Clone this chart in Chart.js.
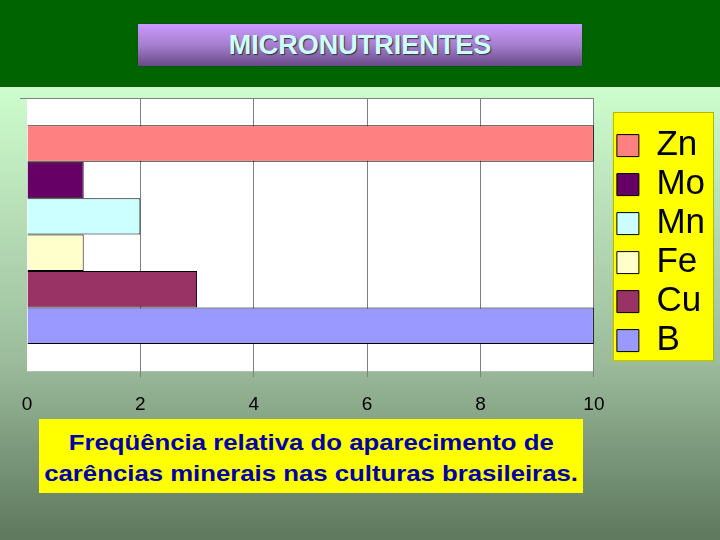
<!DOCTYPE html>
<html>
<head>
<meta charset="utf-8">
<script src="https://cdn.jsdelivr.net/npm/chart.js@4"></script>
<style>
html,body{margin:0;padding:0;}
body{width:720px;height:540px;position:relative;overflow:hidden;
  background:linear-gradient(to bottom,#006400 0px,#006400 87px,#cdfdcd 87px,#bae2ba 200px,#9cbc9c 360px,#7c987c 450px,#5d785d 540px);
  font-family:"Liberation Sans",Arial,sans-serif;}
#title{position:absolute;left:138px;top:24px;width:444px;height:42px;
  background:linear-gradient(#cc99ff 0%,#a57fce 50%,#684a88 100%);
  box-shadow:0 0 1px #222;color:#ccffff;font-weight:bold;font-size:27px;line-height:42px;
  text-align:center;text-shadow:1px 1px 1px #333;}
#wrap{position:absolute;left:0;top:87px;width:720px;height:353px;}
#caption{position:absolute;left:39px;top:419px;width:544px;height:74px;background:#ffff00;
  text-align:center;color:#0000aa;font-weight:bold;font-size:22px;line-height:31px;box-sizing:border-box;padding-top:8px;}
#caption span{display:inline-block;transform:scaleX(1.17);transform-origin:center;white-space:nowrap;}
</style>
</head>
<body>
<div id="title">MICRONUTRIENTES</div>
<div id="wrap"><canvas id="c"></canvas></div>
<div id="caption"><span>Freqüência relativa do aparecimento de</span><br><span>carências minerais nas culturas brasileiras.</span></div>
<script>
// Data
const categories = [''];
const elements = ['Zn', 'Mo', 'Mn', 'Fe', 'Cu', 'B'];
const values = [10, 1, 2, 1, 3, 10];
const colors = ['#ff8080', '#660066', '#ccffff', '#ffffcc', '#993366', '#9999ff'];
const xTicks = [0, 2, 4, 6, 8, 10];

const FONT = '"Liberation Sans", Arial, sans-serif';

const datasets = elements.map((name, i) => ({
  label: name,
  data: [values[i]],
  backgroundColor: colors[i],
  borderColor: '#000000',
  borderWidth: 1,
  categoryPercentage: 0.8,
  barPercentage: 1.0,
  yAxisID: 'y'
}));

const decor = {
  id: 'decor',
  beforeDraw(chart) {
    const {ctx, chartArea: a, legend} = chart;
    ctx.save();
    ctx.fillStyle = '#ffffff';
    ctx.fillRect(a.left, a.top, a.right - a.left, a.bottom - a.top);
    ctx.fillStyle = '#ffff00';
    const lx = legend.left, ly = a.top + 14, lw = legend.right - legend.left - 1, lh = a.bottom - a.top - 24;
    ctx.fillRect(lx, ly, lw, lh);
    ctx.strokeStyle = 'rgba(90,90,0,0.45)';
    ctx.lineWidth = 1;
    ctx.strokeRect(lx + 0.5, ly + 0.5, lw - 1, lh - 1);
    ctx.restore();
  },
  afterDatasetsDraw(chart) {
    const {ctx, chartArea: a} = chart;
    ctx.save();
    ctx.strokeStyle = '#808080';
    ctx.lineWidth = 1;
    ctx.beginPath();
    ctx.moveTo(a.left - 7, Math.round(a.top) + 0.5);
    ctx.lineTo(a.right, Math.round(a.top) + 0.5);
    ctx.stroke();
    ctx.restore();
  }
};

new Chart(document.getElementById('c'), {
  type: 'bar',
  data: { labels: categories, datasets },
  options: {
    indexAxis: 'y',
    responsive: true,
    maintainAspectRatio: false,
    animation: false,
    layout: { padding: { top: 11, left: 27, right: 5, bottom: 8 } },
    scales: {
      x: {
        type: 'linear', position: 'bottom', min: 0, max: 10,
        afterBuildTicks: s => { s.ticks = xTicks.map(v => ({ value: v })); },
        ticks: { color: '#000', font: { size: 19, family: FONT }, padding: 16 },
        grid: {
          color: c => (c.tick && c.tick.value === 0) ? 'rgba(0,0,0,0)' : '#808080',
          tickLength: 6, lineWidth: 1
        },
        border: { display: false }
      },
      y: { type: 'category', display: false },
      y2: {
        type: 'category', position: 'right', display: true,
        grid: { display: false }, ticks: { display: false }, border: { display: false },
        afterFit: s => { s.width = 19; }
      }
    },
    plugins: {
      tooltip: { enabled: false },
      legend: {
        position: 'right', align: 'center', fullSize: false,
        title: { display: true, text: ' ', font: { size: 10 }, padding: { top: 0, bottom: 5 } },
        labels: { boxWidth: 22, boxHeight: 22, padding: 4, color: '#000', font: { size: 35, family: FONT } }
      }
    }
  },
  plugins: [decor]
});
</script>
</body>
</html>
